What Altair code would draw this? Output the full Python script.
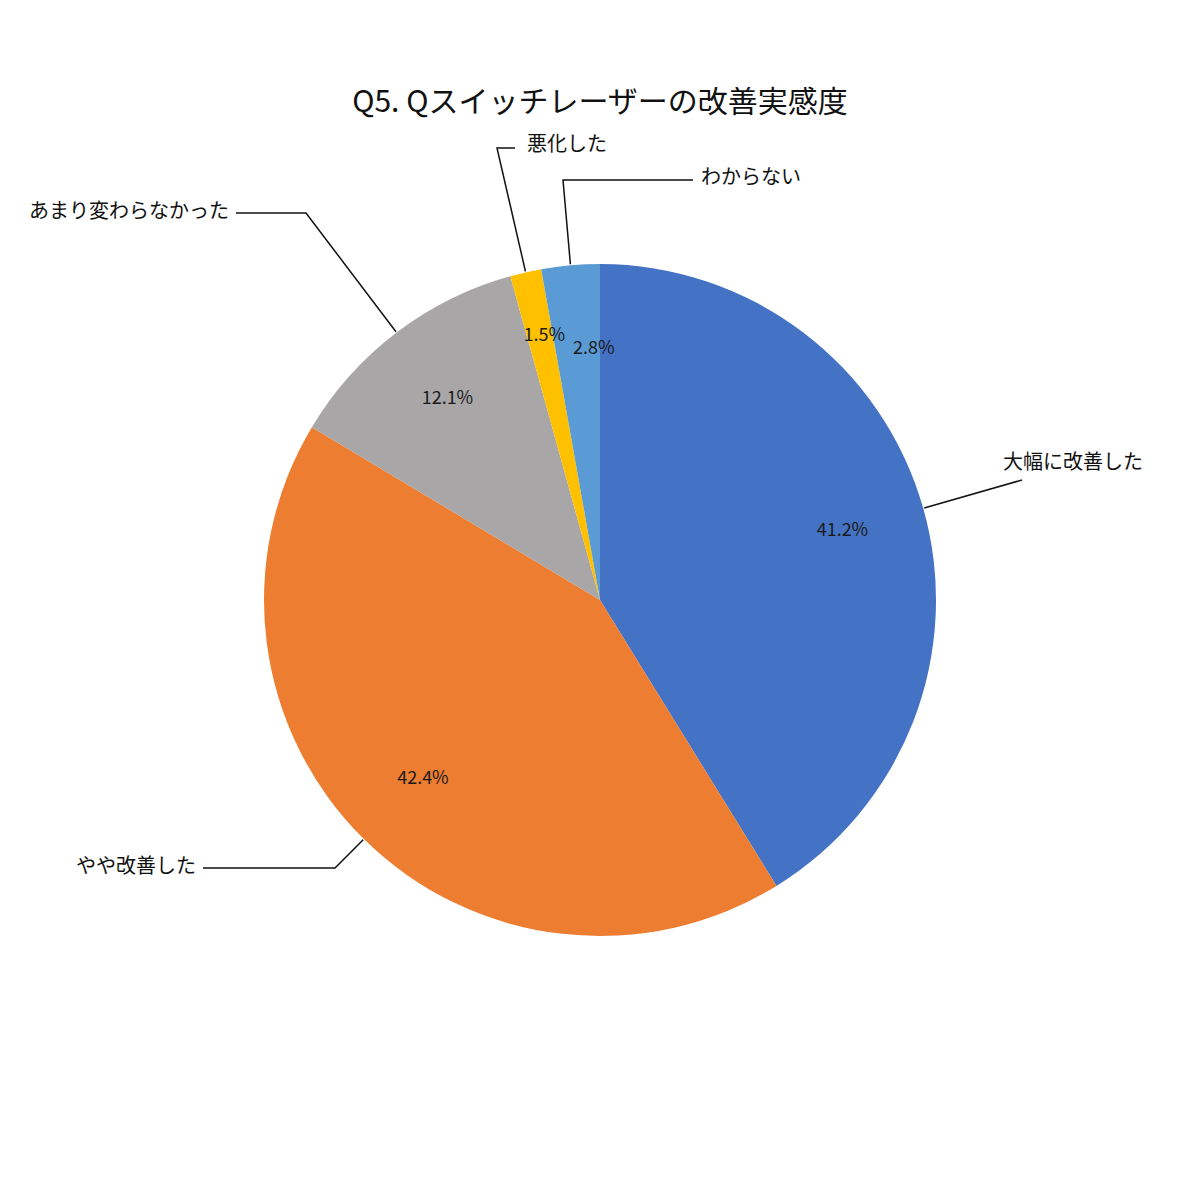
import math
import altair as alt
import pandas as pd

# ---------------- data ----------------
categories = ["大幅に改善した", "やや改善した", "あまり変わらなかった", "悪化した", "わからない"]
values = [41.2, 42.4, 12.1, 1.5, 2.8]
pct_labels = ["41.2%", "42.4%", "12.1%", "1.5%", "2.8%"]
colors = ["#4472C4", "#ED7D31", "#A8A6A7", "#FFC000", "#5B9BD5"]
title_text = "Q5. Qスイッチレーザーの改善実感度"

# ---------------- layout ----------------
FONT = "Noto Sans CJK JP"
W = H = 1184
CX, CY = W / 2, H / 2
R = 336
M = 8  # page margin, layout below given in page pixels

# leader elbows / ends and label anchors (page pixels)
elbows = {
    "大幅に改善した": (1022, 480),
    "やや改善した": (335, 868),
    "あまり変わらなかった": (306, 213),
    "悪化した": (497, 148),
    "わからない": (563, 180),
}
ends = {
    "大幅に改善した": (1022, 480),
    "やや改善した": (203, 868),
    "あまり変わらなかった": (236, 213),
    "悪化した": (515, 148),
    "わからない": (693, 180),
}
label_pos = {
    "大幅に改善した": (1003, 463, "left"),
    "やや改善した": (196, 867, "right"),
    "あまり変わらなかった": (229, 212, "right"),
    "悪化した": (527, 145, "left"),
    "わからない": (701, 178, "left"),
}
# small nudges of in-slice percentage labels (dx, dy)
pct_nudge = {
    "大幅に改善した": (0, 0),
    "やや改善した": (0, 0),
    "あまり変わらなかった": (0, 0),
    "悪化した": (0, -18),
    "わからない": (16, 0),
}
title_pos = (600, 103)

# ---------------- tables ----------------
pie_df = pd.DataFrame({
    "cat": categories,
    "value": values,
    "pct": pct_labels,
    "order": list(range(len(categories))),
})

total = sum(values)
rows = []
cum = 0.0
for cat, v in zip(categories, values):
    mid = (cum + v / 2) / total * 2 * math.pi
    cum += v
    ax = CX + (R + 1) * math.sin(mid)
    ay = CY - (R + 1) * math.cos(mid)
    ex, ey = elbows[cat]
    nx, ny = ends[cat]
    rows.append({"cat": cat, "seq": 0, "px": ax, "py": ay})
    rows.append({"cat": cat, "seq": 1, "px": ex - M, "py": ey - M})
    rows.append({"cat": cat, "seq": 2, "px": nx - M, "py": ny - M})
line_df = pd.DataFrame(rows)

lab_df = pd.DataFrame([
    {"cat": c, "px": label_pos[c][0] - M, "py": label_pos[c][1] - M, "side": label_pos[c][2]}
    for c in categories
])
title_df = pd.DataFrame({"t": [title_text], "px": [title_pos[0] - M], "py": [title_pos[1] - M]})

xs = alt.Scale(domain=[0, W], range=[0, W], nice=False, zero=False)
ys = alt.Scale(domain=[0, H], range=[0, H], nice=False, zero=False)

theta = alt.Theta("value:Q", stack=True)
order = alt.Order("order:Q", sort="ascending")

pie = alt.Chart(pie_df).mark_arc(outerRadius=R).encode(
    theta=theta,
    order=order,
    color=alt.Color("cat:N", scale=alt.Scale(domain=categories, range=colors), legend=None),
)


def pct_layer(cat):
    dx, dy = pct_nudge[cat]
    return alt.Chart(pie_df).mark_text(
        radius=252, font=FONT, fontSize=18, color="#1a1a1a",
        baseline="middle", align="center", dx=dx, dy=dy,
    ).encode(
        theta=theta,
        order=order,
        text=alt.condition(alt.datum.cat == cat, "pct:N", alt.value("")),
    )


lines = alt.Chart(line_df).mark_line(color="#111111", strokeWidth=1.5).encode(
    x=alt.X("px:Q", scale=xs, axis=None),
    y=alt.Y("py:Q", scale=ys, axis=None),
    detail="cat:N",
    order="seq:Q",
)


def label_layer(side):
    return alt.Chart(lab_df).transform_filter(alt.datum.side == side).mark_text(
        font=FONT, fontSize=20, color="#111111", align=side, baseline="middle"
    ).encode(
        x=alt.X("px:Q", scale=xs, axis=None),
        y=alt.Y("py:Q", scale=ys, axis=None),
        text="cat:N",
    )


title = alt.Chart(title_df).mark_text(
    font=FONT, fontSize=30, color="#111111", align="center", baseline="middle"
).encode(
    x=alt.X("px:Q", scale=xs, axis=None),
    y=alt.Y("py:Q", scale=ys, axis=None),
    text="t:N",
)

layers = [pie] + [pct_layer(c) for c in categories] + [lines, label_layer("left"), label_layer("right"), title]

chart = alt.layer(*layers).properties(
    width=W, height=H, autosize="none", padding=0, background="white"
).configure_view(stroke=None)

chart.save("out.html", embed_options={"renderer": "svg", "actions": False})
